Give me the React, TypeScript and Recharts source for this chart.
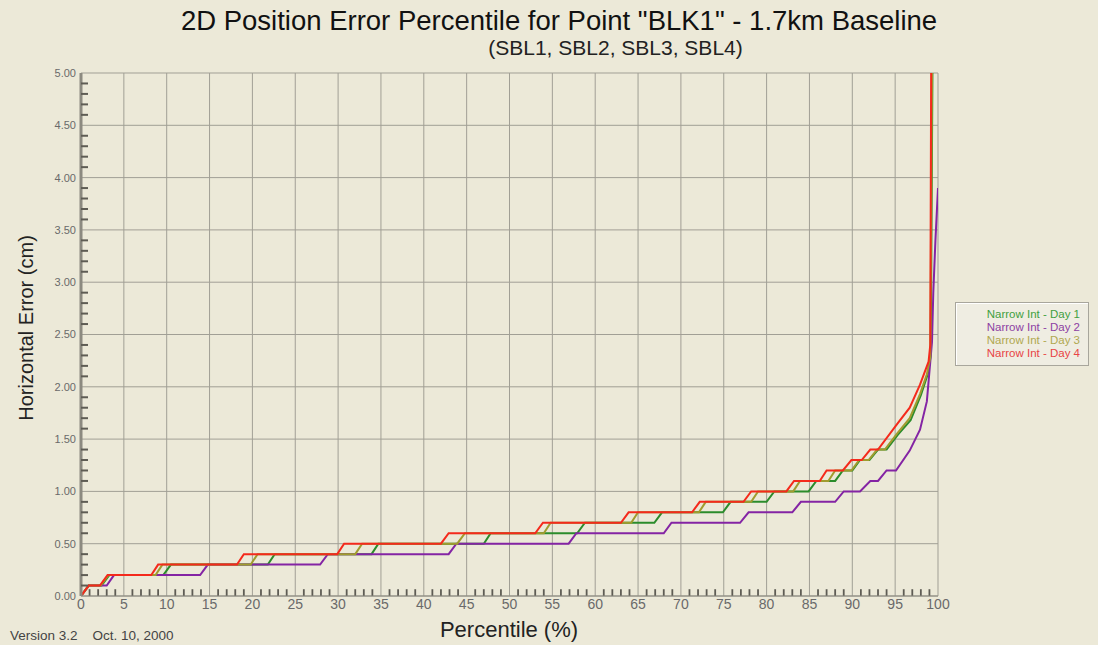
import React from 'react';
import { LineChart, Line, XAxis, YAxis, CartesianGrid, ReferenceLine } from 'recharts';

// tick labels
const percentileTicks = [0, 5, 10, 15, 20, 25, 30, 35, 40, 45, 50, 55, 60, 65, 70, 75, 80, 85, 90, 95, 100];
const errorTicks = [0, 0.5, 1, 1.5, 2, 2.5, 3, 3.5, 4, 4.5, 5];
// minor tick positions
const minorPercentileTicks = Array.from({ length: 101 }, (_, i) => i).filter(v => v % 5 !== 0);
const allErrorTicks = Array.from({ length: 51 }, (_, i) => i / 10);

// Narrow Int - Day 1
const day1Percentile = [0, 0.9, 2.4, 3.3, 9.6, 10.5, 21.8, 22.6, 33.9, 34.7, 47.0, 47.8, 57.9, 58.8, 66.9, 67.8, 74.9, 75.8, 80.0, 80.9, 84.9, 85.8, 88.0, 88.9, 90.0, 90.9, 92.0, 93.0, 94.0, 95.3, 96.8, 98.0, 98.8, 99.15, 99.35];
const day1Error = [0, 0.1, 0.1, 0.2, 0.2, 0.3, 0.3, 0.4, 0.4, 0.5, 0.5, 0.6, 0.6, 0.7, 0.7, 0.8, 0.8, 0.9, 0.9, 1.0, 1.0, 1.1, 1.1, 1.2, 1.2, 1.3, 1.3, 1.4, 1.4, 1.54, 1.68, 1.92, 2.12, 2.3, 5.0];

// Narrow Int - Day 2
const day2Percentile = [0, 0.9, 3.0, 3.85, 13.9, 14.8, 27.9, 28.8, 42.9, 43.8, 56.9, 57.8, 68.0, 68.9, 76.9, 77.9, 83.0, 84.0, 88.0, 89.0, 90.9, 92.1, 93.0, 94.0, 95.1, 96.7, 97.9, 98.7, 99.1, 99.3, 99.45, 99.7, 100];
const day2Error = [0, 0.1, 0.1, 0.2, 0.2, 0.3, 0.3, 0.4, 0.4, 0.5, 0.5, 0.6, 0.6, 0.7, 0.7, 0.8, 0.8, 0.9, 0.9, 1.0, 1.0, 1.1, 1.1, 1.2, 1.2, 1.39, 1.59, 1.86, 2.24, 2.43, 2.9, 3.4, 3.9];

// Narrow Int - Day 3
const day3Percentile = [0, 0.9, 2.3, 3.2, 8.7, 9.5, 19.8, 20.6, 32.0, 32.8, 43.9, 44.8, 54.0, 54.8, 64.2, 65.0, 72.1, 72.9, 78.2, 79.0, 83.1, 83.9, 87.2, 88.0, 89.9, 90.8, 91.9, 92.9, 93.8, 95.2, 96.7, 97.9, 98.7, 99.1, 99.3];
const day3Error = [0, 0.1, 0.1, 0.2, 0.2, 0.3, 0.3, 0.4, 0.4, 0.5, 0.5, 0.6, 0.6, 0.7, 0.7, 0.8, 0.8, 0.9, 0.9, 1.0, 1.0, 1.1, 1.1, 1.2, 1.2, 1.3, 1.3, 1.4, 1.4, 1.55, 1.7, 1.93, 2.12, 2.28, 5.0];

// Narrow Int - Day 4
const day4Percentile = [0, 0.9, 2.2, 3.1, 8.2, 9.0, 18.2, 19.0, 29.9, 30.7, 42.0, 42.9, 53.0, 53.9, 63.0, 63.9, 71.3, 72.2, 77.3, 78.2, 82.3, 83.2, 86.2, 87.0, 88.9, 89.9, 91.1, 92.1, 93.0, 95.2, 96.7, 97.9, 98.9, 99.1, 99.2];
const day4Error = [0, 0.1, 0.1, 0.2, 0.2, 0.3, 0.3, 0.4, 0.4, 0.5, 0.5, 0.6, 0.6, 0.7, 0.7, 0.8, 0.8, 0.9, 0.9, 1.0, 1.0, 1.1, 1.1, 1.2, 1.2, 1.3, 1.3, 1.4, 1.4, 1.64, 1.8, 2.02, 2.24, 2.4, 5.0];

const toPoints = (pct: number[], err: number[]) => pct.map((p, i) => ({ pct: p, err: err[i] }));

const series = [
  { name: 'Narrow Int - Day 1', data: toPoints(day1Percentile, day1Error), color: '#2b8c2b', text: '#3f9f3f' },
  { name: 'Narrow Int - Day 2', data: toPoints(day2Percentile, day2Error), color: '#8424a4', text: '#8d3fa3' },
  { name: 'Narrow Int - Day 3', data: toPoints(day3Percentile, day3Error), color: '#a09c2e', text: '#b0a850' },
  { name: 'Narrow Int - Day 4', data: toPoints(day4Percentile, day4Error), color: '#f42a1c', text: '#e84444' },
];

const BG = '#ece9d8';
const FONT = '"Liberation Sans", Arial, sans-serif';
const TICK_MARK = '#5e5c54';
const MINOR_X_HEIGHT = 0.065; // in error units, ~7px

// left axis: label on multiples of 0.5, short mark into the plot elsewhere
const ErrorTick = (props: any) => {
  const { x, y, payload } = props;
  const v = payload.value;
  if (Math.round(v * 10) % 5 === 0) {
    return (
      <text x={x} y={y} dy="0.355em" textAnchor="end" fill="#6a6a6a" fontSize={11} fontFamily={FONT}>
        {v.toFixed(2)}
      </text>
    );
  }
  return <line x1={x + 5} x2={x + 12} y1={y} y2={y} stroke={TICK_MARK} strokeWidth={2} />;
};

export default function App() {
  return (
    <div style={{ position: 'absolute', left: 0, top: 0, width: 1098, height: 645, background: BG, fontFamily: FONT, overflow: 'hidden' }}>
      <LineChart
        width={1098}
        height={645}
        margin={{ top: 73, right: 160, bottom: 0, left: 0 }}
        style={{ position: 'absolute', left: 0, top: 0 }}
      >
        <CartesianGrid stroke="#a19f95" strokeWidth={1} verticalValues={percentileTicks} horizontalValues={errorTicks} />
        <XAxis
          type="number"
          dataKey="pct"
          domain={[0, 100]}
          ticks={percentileTicks}
          interval={0}
          height={49}
          allowDataOverflow
          axisLine={{ stroke: '#8c8a80', strokeWidth: 1 }}
          tickLine={false}
          tickSize={0}
          tickMargin={3}
          tick={{ fill: '#6a6a6a', fontSize: 14, fontFamily: FONT }}
        />
        <YAxis
          type="number"
          dataKey="err"
          domain={[0, 5]}
          ticks={allErrorTicks}
          interval={0}
          width={81}
          allowDataOverflow
          axisLine={{ stroke: '#8c8a80', strokeWidth: 3 }}
          tickLine={false}
          tickSize={0}
          tickMargin={5}
          tick={<ErrorTick />}
        />
        {minorPercentileTicks.map(v => (
          <ReferenceLine
            key={`mx${v}`}
            segment={[{ x: v, y: 0 }, { x: v, y: MINOR_X_HEIGHT }]}
            stroke={TICK_MARK}
            strokeWidth={1.8}
            ifOverflow="visible"
          />
        ))}
        {series.map(s => (
          <Line
            key={s.name}
            data={s.data}
            dataKey="err"
            name={s.name}
            type="linear"
            stroke={s.color}
            strokeWidth={2}
            dot={false}
            isAnimationActive={false}
          />
        ))}
      </LineChart>

      <div style={{ position: 'absolute', left: 0, width: 1118, top: 5, textAlign: 'center', fontSize: 27.5, color: '#111', whiteSpace: 'nowrap' }}>
        2D Position Error Percentile for Point "BLK1" - 1.7km Baseline
      </div>
      <div style={{ position: 'absolute', left: 0, width: 1231, top: 36, textAlign: 'center', fontSize: 21, color: '#222', whiteSpace: 'nowrap' }}>
        (SBL1, SBL2, SBL3, SBL4)
      </div>
      <div style={{ position: 'absolute', left: 26, top: 328, transform: 'translate(-50%, -50%) rotate(-90deg)', whiteSpace: 'nowrap', fontSize: 20, color: '#222' }}>
        Horizontal Error (cm)
      </div>
      <div style={{ position: 'absolute', left: 0, width: 1018, top: 617, textAlign: 'center', fontSize: 22, color: '#222', whiteSpace: 'nowrap' }}>
        Percentile (%)
      </div>
      <div style={{ position: 'absolute', left: 10, top: 628, fontSize: 13.5, color: '#444', whiteSpace: 'pre' }}>
        {'Version 3.2    Oct. 10, 2000'}
      </div>

      <div style={{ position: 'absolute', left: 955, top: 302, width: 134, height: 64, border: '1px solid #a8a69c', boxShadow: '1px 1px 0 #ffffff inset', background: '#efede2', boxSizing: 'border-box', paddingTop: 5 }}>
        {series.map(s => (
          <div key={s.name} style={{ fontSize: 11.5, lineHeight: '13px', color: s.text, textAlign: 'right', paddingRight: 8 }}>
            {s.name}
          </div>
        ))}
      </div>
    </div>
  );
}
